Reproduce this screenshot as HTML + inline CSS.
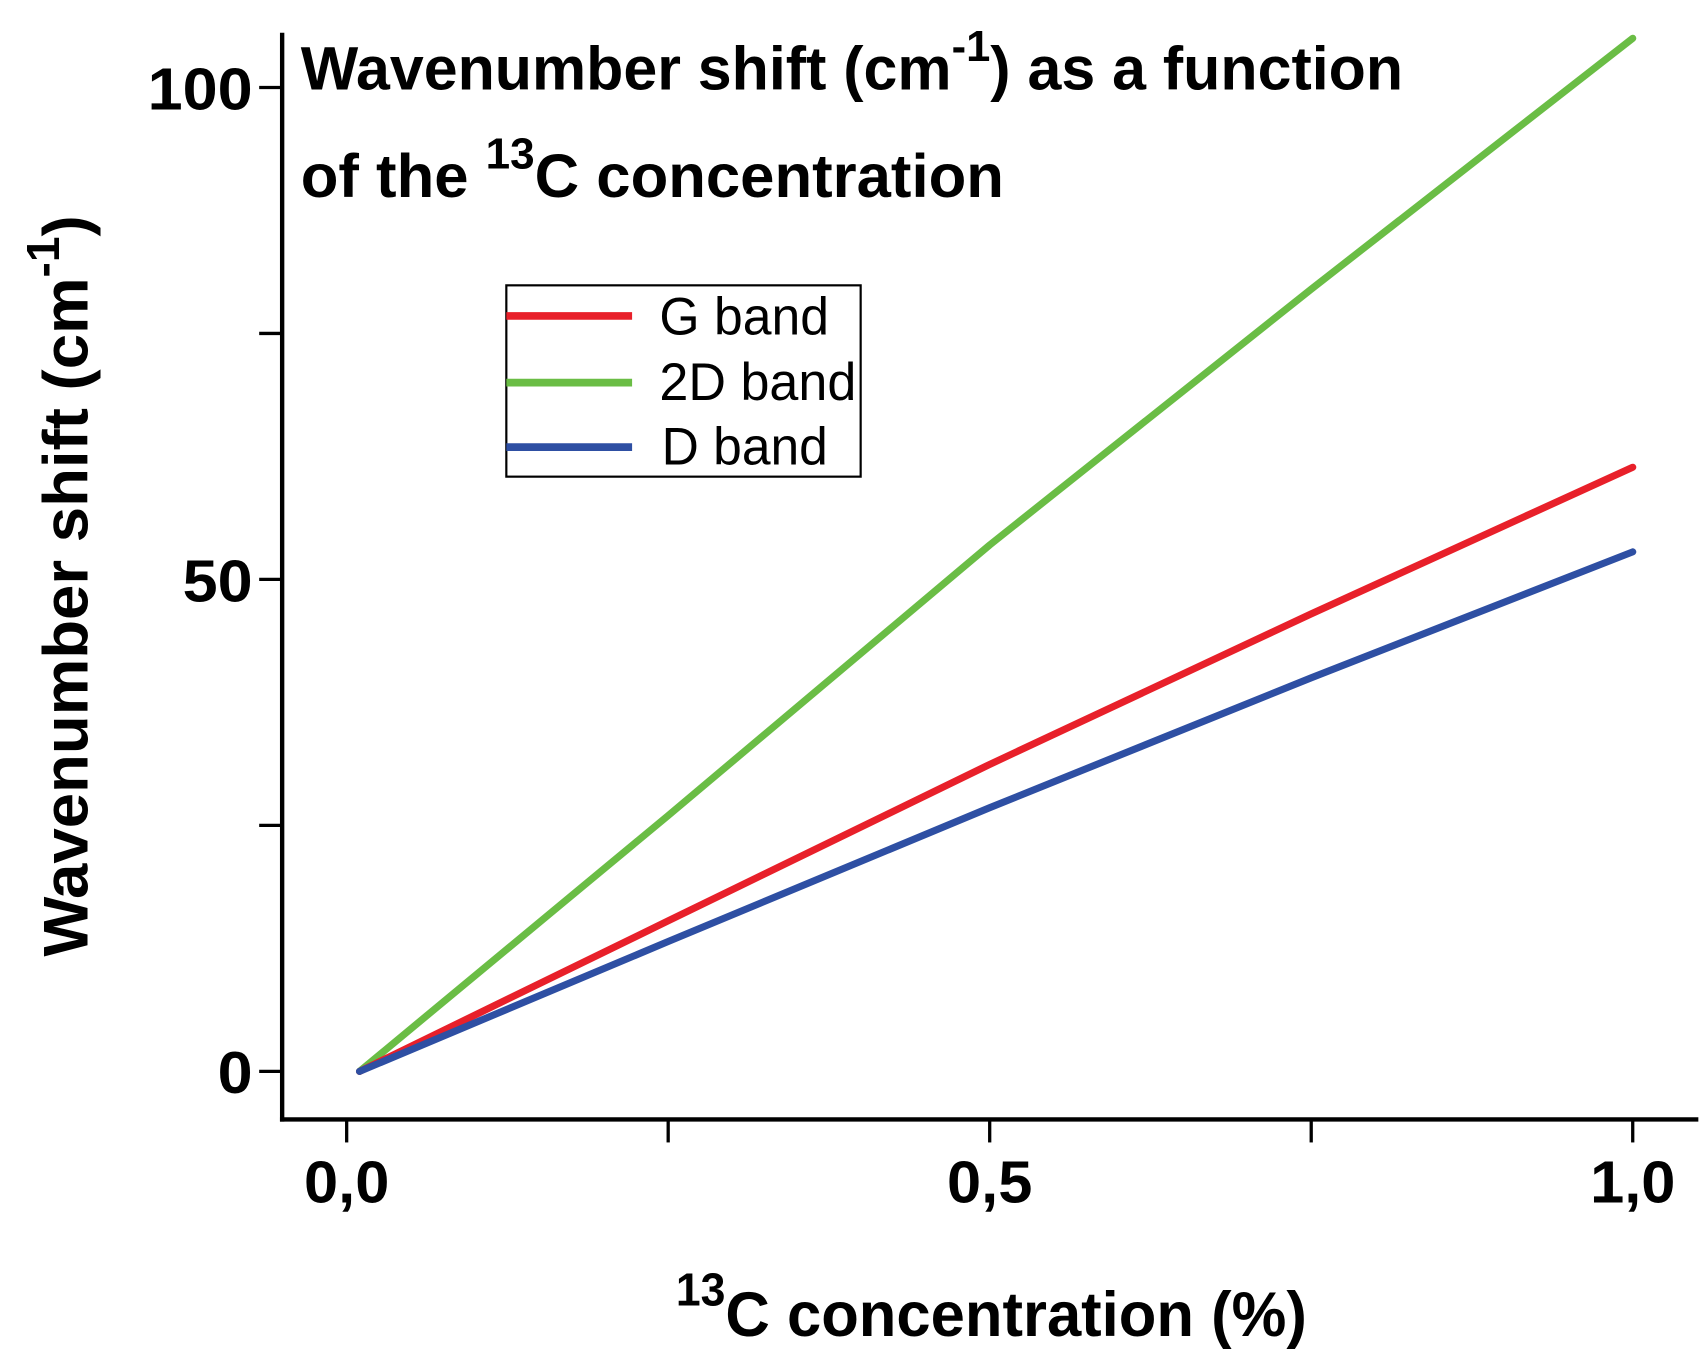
<!DOCTYPE html>
<html><head><meta charset="utf-8"><style>
html,body{margin:0;padding:0;background:#fff;}
svg{display:block;}
text{font-family:"Liberation Sans Narrow","Liberation Sans",sans-serif;}
</style></head><body>
<svg id="chart" width="1706" height="1360" viewBox="0 0 1560 1244" preserveAspectRatio="none" xmlns="http://www.w3.org/2000/svg">
<g id="axes"></g>
<g id="series"></g>
<text x="275" y="82" font-size="56" font-weight="bold" textLength="1008" lengthAdjust="spacingAndGlyphs">Wavenumber shift (cm<tspan dy="-26" font-size="40">-1</tspan><tspan dy="26">) as a function</tspan></text>
<text x="275" y="180" font-size="56" font-weight="bold" textLength="643" lengthAdjust="spacingAndGlyphs">of the <tspan dy="-26" font-size="40">13</tspan><tspan dy="26">C concentration</tspan></text>
<text transform="translate(80,875) rotate(-90)" font-size="58" font-weight="bold" textLength="678" lengthAdjust="spacingAndGlyphs">Wavenumber shift (cm<tspan dy="-26" font-size="42">-1</tspan><tspan dy="26">)</tspan></text>
<text x="618" y="1222" font-size="58" font-weight="bold" textLength="577" lengthAdjust="spacingAndGlyphs"><tspan dy="-28" font-size="42">13</tspan><tspan dy="28">C concentration (%)</tspan></text>
<g>
<rect x="463" y="261" width="324" height="175" fill="#fff" stroke="#000" stroke-width="2"/>
<line x1="463" y1="289" x2="578" y2="289" stroke="#e8202a" stroke-width="7"/>
<text x="603" y="306" font-size="48" textLength="155" lengthAdjust="spacingAndGlyphs">G band</text>
<line x1="463" y1="350" x2="578" y2="350" stroke="#6abd45" stroke-width="7"/>
<text x="603" y="366" font-size="48" textLength="180" lengthAdjust="spacingAndGlyphs">2D band</text>
<line x1="463" y1="409" x2="578" y2="409" stroke="#2e4fa3" stroke-width="7"/>
<text x="605" y="425" font-size="48" textLength="152" lengthAdjust="spacingAndGlyphs">D band</text>
</g>
</svg>
<script>
const xs = [0.01, 0.25, 0.5, 0.75, 1.0];
const gBand = [0, 15.3, 31.2, 46.5, 61.4];
const band2D = [0, 26, 53.5, 79.5, 105];
const dBand = [0, 13.2, 26.8, 40, 52.8];
const yTicks = [0, 25, 50, 75, 100];
const yTickLabels = ["0", "", "50", "", "100"];
const xTicks = [0, 0.25, 0.5, 0.75, 1.0];
const xTickLabels = ["0,0", "", "0,5", "", "1,0"];

const NS = "http://www.w3.org/2000/svg";
const X = v => 317 + v * (1493 - 317);
const Y = v => 980 - v * 9;
function mk(tag, attrs, parent) {
  const e = document.createElementNS(NS, tag);
  for (const k in attrs) e.setAttribute(k, attrs[k]);
  parent.appendChild(e);
  return e;
}
const axes = document.getElementById('axes');
const yAxis = mk('line', {x1:258, y1:30, x2:258, y2:1026, stroke:'#000', 'stroke-width':4}, axes);


const xAxis = mk('line', {x1:256, y1:1024, x2:1553, y2:1024, stroke:'#000', 'stroke-width':4}, axes);


yTicks.forEach((t, i) => {
  const l = mk('line', {x1:237, y1:Y(t), x2:258, y2:Y(t), stroke:'#000', 'stroke-width':3}, axes);
  
  
  const lab = yTickLabels[i];
  if (lab) {
    const tx = mk('text', {x:231 - lab.length * 32, y:Y(t)+20, 'font-size':54, 'font-weight':'bold', textLength:lab.length * 32, lengthAdjust:'spacingAndGlyphs'}, axes);
    tx.textContent = lab;
    
    
  }
});
xTicks.forEach((t, i) => {
  const l = mk('line', {x1:X(t), y1:1024, x2:X(t), y2:1045, stroke:'#000', 'stroke-width':3}, axes);
  
  
  if (xTickLabels[i]) {
    const tx = mk('text', {x:X(t) - 39, y:1100, 'font-size':54, 'font-weight':'bold', textLength:78, lengthAdjust:'spacingAndGlyphs'}, axes);
    tx.textContent = xTickLabels[i];
    
    
  }
});
const series = document.getElementById('series');
[[band2D, '#6abd45', 'line-2d-band'], [gBand, '#e8202a', 'line-g-band'], [dBand, '#2e4fa3', 'line-d-band']].forEach(([vals, col, name]) => {
  const d = vals.map((v, i) => (i ? 'L' : 'M') + X(xs[i]) + ' ' + Y(v)).join(' ');
  const p = mk('path', {d:d, fill:'none', stroke:col, 'stroke-width':6.5, 'stroke-linejoin':'round', 'stroke-linecap':'round'}, series);
  
  
});
</script>
</body></html>
